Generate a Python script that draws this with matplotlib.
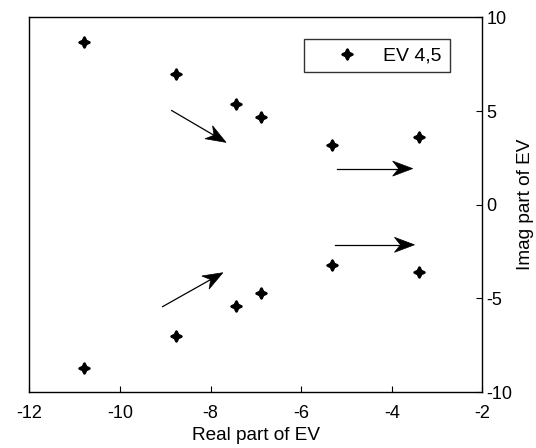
import matplotlib
matplotlib.use("Agg")
import matplotlib.pyplot as plt
from matplotlib.patches import Polygon
from matplotlib.path import Path
from matplotlib.markers import MarkerStyle
import numpy as np

# eigenvalues (upper half plane), conjugates are mirrored below
ev_real = [-10.8, -8.77, -7.44, -6.89, -5.33, -3.39]
ev_imag = [8.7, 7.0, 5.4, 4.7, 3.2, 3.6]

# direction arrows: tail -> tip in data units
arrow_x0 = [-8.86, -9.06, -5.22, -5.25]
arrow_y0 = [5.03, -5.44, 1.93, -2.14]
arrow_x1 = [-7.66, -7.73, -3.54, -3.50]
arrow_y1 = [3.33, -3.63, 1.93, -2.14]

x_ticks = [-12, -10, -8, -6, -4, -2]
y_ticks = [-10, -5, 0, 5, 10]

plt.rcParams["font.family"] = ["Liberation Sans", "DejaVu Sans"]
plt.rcParams["font.size"] = 13
plt.rcParams["axes.unicode_minus"] = False

fig = plt.figure(figsize=(5.36, 4.48), dpi=100)
ax = fig.add_axes([0.055, 0.125, 0.845, 0.836])

star = MarkerStyle(Path.unit_regular_star(4, 0.45), joinstyle="round")

xs = ev_real + ev_real
ys = ev_imag + [-v for v in ev_imag]
ax.plot(xs, ys, linestyle="none", marker=star, markersize=7,
        color="black", markeredgewidth=2.0, label="EV 4,5")

ax.set_xlim(-12, -2)
ax.set_ylim(-10, 10)
ax.set_xticks(x_ticks)
ax.set_yticks(y_ticks)
ax.yaxis.tick_right()
ax.yaxis.set_label_position("right")
ax.tick_params(direction="in", length=4, width=0.8, colors="black")
ax.tick_params(axis="x", top=False, pad=9)
ax.tick_params(axis="y", left=False, pad=3)
for s in ax.spines.values():
    s.set_linewidth(1.0)

ax.set_xlabel("Real part of EV", fontsize=13.7, labelpad=4)
ax.set_ylabel("Imag part of EV", fontsize=13.7, labelpad=3)

leg = ax.legend(loc="upper right", bbox_to_anchor=(0.928, 0.943),
                frameon=True, fancybox=False, edgecolor="black",
                fontsize=14, handlelength=3.58, handletextpad=0.1,
                borderpad=0.41, borderaxespad=0)
leg.get_frame().set_linewidth(1.0)

# arrows drawn in display space so the heads keep a fixed pixel size
fig.canvas.draw()
to_data = ax.transData.inverted()
head_len, head_half, notch = 20.0, 7.5, 14.0
for x0, y0, x1, y1 in zip(arrow_x0, arrow_y0, arrow_x1, arrow_y1):
    p0 = ax.transData.transform((x0, y0))
    p1 = ax.transData.transform((x1, y1))
    u = (p1 - p0) / np.hypot(*(p1 - p0))
    n = np.array([-u[1], u[0]])
    back = p1 - u * head_len
    base = p1 - u * notch
    bx, by = to_data.transform(base)
    ax.plot([x0, bx], [y0, by], color="black", linewidth=0.9)
    head = np.array([p1, back + n * head_half, base, back - n * head_half])
    ax.add_patch(Polygon(head, closed=True, transform=None,
                         facecolor="black", edgecolor="black", linewidth=0.5))

fig.savefig("out.png", dpi=100)
